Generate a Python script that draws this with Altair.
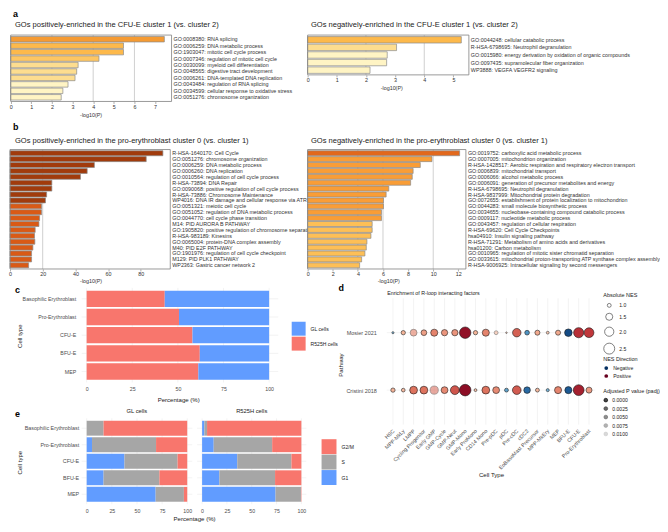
import altair as alt
import pandas as pd

FONT = "Liberation Sans"
W, H = 652, 512

# ---------------- Panel a ----------------
a_left_terms = ["GO:0008380: RNA splicing", "GO:0006259: DNA metabolic process",
                "GO:1903047: mitotic cell cycle process", "GO:0007346: regulation of mitotic cell cycle",
                "GO:0030099: myeloid cell differentiation", "GO:0048565: digestive tract development",
                "GO:0006261: DNA-templated DNA replication", "GO:0043484: regulation of RNA splicing",
                "GO:0034599: cellular response to oxidative stress", "GO:0051276: chromosome organization"]
a_left_vals = [7.45, 5.47, 5.47, 4.28, 3.27, 3.2, 3.12, 2.78, 2.53, 2.45]
a_left_shade = ["s1", "s2", "s2", "s3", "s4", "s4", "s4", "s5", "s5", "s5"]

a_right_terms = ["GO:0044248: cellular catabolic process", "R-HSA-6798695: Neutrophil degranulation",
                 "GO:0015980: energy derivation by oxidation of organic compounds",
                 "GO:0097435: supramolecular fiber organization", "WP3888: VEGFA VEGFR2 signaling"]
a_right_vals = [5.27, 3.05, 2.73, 2.71, 2.14]
a_right_shade = ["s2", "s4", "s5", "s5", "s5"]

# ---------------- Panel b ----------------
b_left_terms = ["R-HSA-1640170: Cell Cycle", "GO:0051276: chromosome organization",
                "GO:0006259: DNA metabolic process", "GO:0006260: DNA replication",
                "GO:0010564: regulation of cell cycle process", "R-HSA-73894: DNA Repair",
                "GO:0090068: positive regulation of cell cycle process", "R-HSA-73886: Chromosome Maintenance",
                "WP4016: DNA IR damage and cellular response via ATR", "GO:0051321: meiotic cell cycle",
                "GO:0051052: regulation of DNA metabolic process", "GO:0044770: cell cycle phase transition",
                "M14: PID AURORA B PATHWAY", "GO:1905820: positive regulation of chromosome separation",
                "R-HSA-983189: Kinesins", "GO:0065004: protein-DNA complex assembly",
                "M40: PID E2F PATHWAY", "GO:1901976: regulation of cell cycle checkpoint",
                "M129: PID PLK1 PATHWAY", "WP2363: Gastric cancer network 2"]
b_left_vals = [93.5, 83.3, 51.6, 47.2, 43.1, 25.6, 25.6, 22.4, 21.7, 19.3,
               19.3, 18.1, 17.7, 15.4, 15.0, 15.2, 14.0, 13.2, 13.2, 11.4]
b_left_shade = ["s6"] * 9 + ["s7"] * 11

b_right_terms = ["GO:0019752: carboxylic acid metabolic process", "GO:0007005: mitochondrion organization",
                 "R-HSA-1428517: Aerobic respiration and respiratory electron transport",
                 "GO:0006839: mitochondrial transport", "GO:0006066: alcohol metabolic process",
                 "GO:0006091: generation of precursor metabolites and energy",
                 "R-HSA-6798695: Neutrophil degranulation", "R-HSA-9837999: Mitochondrial protein degradation",
                 "GO:0072655: establishment of protein localization to mitochondrion",
                 "GO:0044283: small molecule biosynthetic process",
                 "GO:0034655: nucleobase-containing compound catabolic process",
                 "GO:0009117: nucleotide metabolic process", "GO:0043457: regulation of cellular respiration",
                 "R-HSA-69620: Cell Cycle Checkpoints", "hsa04910: Insulin signaling pathway",
                 "R-HSA-71291: Metabolism of amino acids and derivatives", "hsa01200: Carbon metabolism",
                 "GO:0010965: regulation of mitotic sister chromatid separation",
                 "GO:0033615: mitochondrial proton-transporting ATP synthase complex assembly",
                 "R-HSA-9006925: Intracellular signaling by second messengers"]
b_right_vals = [12.1, 9.9, 8.97, 8.4, 8.33, 8.2, 6.46, 6.25, 6.04, 6.04,
                5.88, 5.88, 5.14, 5.14, 5.04, 4.72, 4.67, 4.56, 4.3, 4.14]
b_right_shade = ["s8"] + ["s9"] * 11 + ["s10"] * 8

shade_names = ["s1", "s2", "s3", "s4", "s5", "s6", "s7", "s8", "s9", "s10"]
shade_colors = ["#F59B33", "#FDB94B", "#FDC663", "#FDDD8F", "#FFF4C4",
                "#A13B0C", "#D95A16", "#E2681C", "#F99D36", "#FDBF56"]

# ---------------- Panel c ----------------
cell_types = ["Basophilic Erythroblast", "Pro-Erythroblast", "CFU-E", "BFU-E", "MEP"]
c_r525h = [42.8, 50.6, 58.0, 62.0, 61.2]
c_gl = [57.2, 49.4, 42.0, 38.0, 38.8]

# ---------------- Panel e ----------------
phases = ["G2/M", "S", "G1"]
e_gl_g1 = [0.0, 5.3, 37.6, 16.8, 68.6]
e_gl_s = [16.8, 63.7, 52.8, 55.5, 28.1]
e_gl_g2m = [83.2, 31.0, 9.6, 27.7, 3.3]
e_r_g1 = [2.3, 11.7, 35.4, 17.4, 74.0]
e_r_s = [2.7, 58.9, 54.6, 56.1, 25.6]
e_r_g2m = [95.0, 29.4, 10.0, 26.5, 0.4]

# ---------------- Panel d ----------------
d_cells = ["HSC", "MPP-MkLy", "LMPP", "Cycling Progenitor", "Early GMP", "GMP-Cycle", "GMP-Neut",
           "GMP-Mono", "Early ProMono", "CD14 Mono", "Pre-pDC", "pDC", "Pre-cDC", "cDC2",
           "EoBasoMast Precursor", "MPP-MkEry", "MEP", "BFU-E", "CFU-E", "Pro-Erythroblast"]
d_paths = ["Mosier 2021", "Cristini 2018"]
mosier_nes = [-0.85, 1.05, 1.45, 1.25, 1.5, 1.35, 1.35, 2.65, 1.05, 1.5,
              1.0, 0.82, 1.8, -1.1, 1.15, 0.9, 1.15, -1.6, 2.25, 2.15]
mosier_padj = [0.001, 0.0006, 0.0045, 0.0005, 0.0003, 0.0005, 0.0004, 0.0, 0.0006, 0.0003,
               0.0052, 0.002, 0.0002, 0.0004, 0.0005, 0.002, 0.0005, 0.0, 0.0, 0.0]
cristini_nes = [1.05, 0.98, 1.65, 1.65, 1.75, 1.45, 1.9, 2.7, 0.9, 1.65,
                1.45, -1.0, 1.85, -1.4, 1.0, -0.92, 1.5, -1.5, 2.45, 1.3]
cristini_padj = [0.0006, 0.0008, 0.0002, 0.0002, 0.0056, 0.0004, 0.0001, 0.0, 0.001, 0.0002,
                 0.0005, 0.0008, 0.0001, 0.0003, 0.0008, 0.0015, 0.0004, 0.0, 0.0, 0.0006]
dir_names = ["Negative", "Positive"]

TXT = "#1A1A1A"
GRAY = "#4D4D4D"
GRIDC = "#EBEBEB"


def txt(t, x, y, size, weight="normal", align="left", baseline="middle", color=TXT):
    return alt.Chart(pd.DataFrame({"t": [t]})).mark_text(
        align=align, baseline=baseline, fontSize=size, fontWeight=weight, color=color, font=FONT
    ).encode(text="t:N", x=alt.value(x), y=alt.value(y))


def go_panel(terms, vals, shades, xmax, ticks, grid_vals, x0, x1, y0, y1, po, titleX, titleY):
    df = pd.DataFrame({"term": terms, "val": vals, "shade": shades})
    xscale = alt.Scale(domain=[0, xmax], range=[x0, x1], nice=False, zero=True)
    xaxis = alt.Axis(orient="bottom", offset=y1 - H, values=ticks, grid=False, domain=False,
                     tickSize=2, tickColor="#777777", tickWidth=0.6, labelFontSize=5.4,
                     labelColor="#333333", labelPadding=1, labelFlush=False, labelOverlap=False,
                     title="-log10(P)", titleFontSize=5.4, titleFontWeight="normal",
                     titleColor="#333333", titleX=titleX, titleY=titleY, titleBaseline="middle")
    yscale = alt.Scale(domain=terms, range=[y0, y1], paddingInner=0.15, paddingOuter=po)
    yaxis = alt.Axis(orient="right", offset=x1 - W, title=None, ticks=False, domain=False,
                     labelAlign="left", labelFontSize=5.4, labelColor="#333333",
                     labelPadding=1.5, labelLimit=600)
    grid = alt.Chart(pd.DataFrame({"val": grid_vals})).mark_rule(
        color="#C4C4C4", strokeWidth=0.8
    ).encode(x=alt.X("val:Q", scale=xscale, axis=xaxis), y=alt.value(y0), y2=alt.value(y1))
    bars = alt.Chart(df).mark_bar(stroke="#8A8A8A", strokeWidth=0.7).encode(
        x=alt.X("val:Q", scale=xscale, axis=xaxis),
        y=alt.Y("term:N", sort=terms, scale=yscale, axis=yaxis),
        color=alt.Color("shade:N", scale=alt.Scale(domain=shade_names, range=shade_colors),
                        legend=None),
    )
    box = alt.Chart(pd.DataFrame({"b": [0]})).mark_rect(
        fillOpacity=0, stroke="#7F7F7F", strokeWidth=0.8
    ).encode(x=alt.value(x0), x2=alt.value(x1), y=alt.value(y0), y2=alt.value(y1))
    return alt.layer(grid, bars, box)


aL = go_panel(a_left_terms, a_left_vals, a_left_shade, 7.8, list(range(8)), [2, 4, 6],
              0.7, 162.3, 23, 89.7, 0.22, 81, 13)
aR = go_panel(a_right_terms, a_right_vals, a_right_shade, 5.53, list(range(6)), [2, 4],
              299, 461, 23, 63, 0.2, 383, 12.7)
bL = go_panel(b_left_terms, b_left_vals, b_left_shade, 98, [0, 20, 40, 60, 80], [20],
              0, 161, 138, 258, 0.2, 81, 12)
bR = go_panel(b_right_terms, b_right_vals, b_right_shade, 12.6, [0, 2, 4, 6, 8, 10, 12], [4, 6, 10],
              299, 458, 138, 258, 0.2, 380, 12)


# ---------------- stacked percentage panels (c, e) ----------------
def pct_panel(df, grp_field, cscale, legend, x0, x1, y0, y1, dmin, ylabels, ylab_pad,
              ytitleY, xtitle, xtitleX=None, xtitleY=None, yfs=5.3):
    xscale = alt.Scale(domain=[dmin, 105], range=[x0, x1], nice=False, zero=False)
    xkw = dict(orient="bottom", offset=y1 - H, values=[0, 25, 50, 75, 100], grid=False,
               domain=False, ticks=False, labelFontSize=5.3, labelColor=GRAY, labelPadding=4.3,
               labelFlush=False, labelOverlap=False)
    if xtitle:
        xkw.update(title="Percentage (%)", titleFontSize=6.1, titleFontWeight="normal",
                   titleColor=TXT, titleX=xtitleX, titleY=xtitleY, titleBaseline="middle")
    else:
        xkw["title"] = None
    xaxis = alt.Axis(**xkw)
    yscale = alt.Scale(domain=cell_types, range=[y0, y1], paddingInner=0.1, paddingOuter=0.15)
    if ylabels:
        yaxis = alt.Axis(orient="left", offset=-x0, grid=False, ticks=False, domain=False,
                         labelFontSize=yfs, labelColor=GRAY, labelPadding=ylab_pad,
                         title="Cell type", titleFontSize=6.1, titleFontWeight="normal",
                         titleColor=TXT, titleX=-62, titleY=ytitleY, titleAngle=270,
                         titleBaseline="middle", titleAlign="center")
    else:
        yaxis = alt.Axis(orient="left", offset=-x0, grid=False, ticks=False, domain=False,
                         labels=False, title=None)
    vgrid = alt.Chart(pd.DataFrame({"pct": [0, 25, 50, 75, 100]})).mark_rule(
        color=GRIDC, strokeWidth=0.6
    ).encode(x=alt.X("pct:Q", scale=xscale, axis=xaxis), y=alt.value(y0), y2=alt.value(y1))
    hgrid = alt.Chart(pd.DataFrame({"cell": cell_types})).mark_rule(
        color=GRIDC, strokeWidth=0.6
    ).encode(y=alt.Y("cell:N", sort=cell_types, scale=yscale, axis=yaxis),
             x=alt.value(x0), x2=alt.value(x1))
    bars = alt.Chart(df).mark_bar().encode(
        x=alt.X("pct:Q", stack="zero", scale=xscale, axis=xaxis),
        y=alt.Y("cell:N", sort=cell_types, scale=yscale, axis=yaxis),
        color=alt.Color(grp_field + ":N", scale=cscale, legend=legend),
        order=alt.Order("ord:Q"),
    )
    return alt.layer(vgrid, hgrid, bars)


c_rows = []
for i, ct in enumerate(cell_types):
    c_rows.append({"cell": ct, "group": "R525H cells", "pct": c_r525h[i], "ord": 0})
    c_rows.append({"cell": ct, "group": "GL cells", "pct": c_gl[i], "ord": 1})
c_df = pd.DataFrame(c_rows)

c_panel = pct_panel(
    c_df, "group",
    alt.Scale(domain=["GL cells", "R525H cells"], range=["#619CFF", "#F8766D"]),
    alt.Legend(orient="none", legendX=283, legendY=311, title=None, symbolType="square",
               symbolSize=196, symbolStrokeWidth=0, labelFontSize=5.1, labelColor=TXT,
               rowPadding=1, labelOffset=5),
    72, 269.5, 277, 372, -2.73, True, 6, 325, True, 169, 16.7)


def e_df(g1, s, g2m):
    rows = []
    for i, ct in enumerate(cell_types):
        rows.append({"cell": ct, "phase": "G1", "pct": g1[i], "ord": 0})
        rows.append({"cell": ct, "phase": "S", "pct": s[i], "ord": 1})
        rows.append({"cell": ct, "phase": "G2/M", "pct": g2m[i], "ord": 2})
    return pd.DataFrame(rows)


phase_scale = alt.Scale(domain=phases, range=["#F8766D", "#A6A6A6", "#619CFF"])
eL_panel = pct_panel(e_df(e_gl_g1, e_gl_s, e_gl_g2m), "phase", phase_scale, None,
                     72, 183.1, 408, 494.3, -5, True, 3, 452, True, 184.9, 14.7, yfs=5.4)
eR_panel = pct_panel(e_df(e_r_g1, e_r_s, e_r_g2m), "phase", phase_scale,
                     alt.Legend(orient="none", legendX=313, legendY=429, title=None,
                                symbolType="square", symbolSize=225, symbolStrokeWidth=0,
                                labelFontSize=5.1, labelColor=TXT, rowPadding=0.5, labelOffset=5),
                     188, 297.7, 408, 494.3, -5, False, 3, 452, False)

# ---------------- Panel d ----------------
d_rows = []
for i, ct in enumerate(d_cells):
    d_rows.append({"cell": ct, "pathway": "Mosier 2021", "nes": mosier_nes[i],
                   "absnes": abs(mosier_nes[i]), "padj": mosier_padj[i]})
    d_rows.append({"cell": ct, "pathway": "Cristini 2018", "nes": cristini_nes[i],
                   "absnes": abs(cristini_nes[i]), "padj": cristini_padj[i]})
d_df = pd.DataFrame(d_rows)

DX0, DX1, DY0, DY1 = 378.5, 587.9, 287.4, 414.3
d_xscale = alt.Scale(domain=d_cells, type="point", padding=0.6, range=[DX0, DX1])
d_xaxis = alt.Axis(orient="bottom", offset=DY1 - H, labelAngle=315, labelAlign="right",
                   labelBaseline="middle", labelPadding=5, domain=False, ticks=False, grid=False,
                   labelFontSize=5.3, labelColor=GRAY, title="Cell Type", titleFontSize=6.1,
                   titleFontWeight="normal", titleColor=TXT, titleX=483.2, titleY=50.4,
                   titleBaseline="middle")
d_yscale = alt.Scale(domain=d_paths, type="point", padding=0, range=[322, 379.7])
d_yaxis = alt.Axis(orient="left", offset=-DX0, grid=False, domain=False, ticks=False,
                   labelFontSize=5.5, labelColor=GRAY, labelPadding=10.5, title="Pathway",
                   titleFontSize=6.1, titleFontWeight="normal", titleColor=TXT, titleX=-46.5,
                   titleY=354, titleAngle=270, titleBaseline="middle", titleAlign="center")

d_vgrid = alt.Chart(pd.DataFrame({"cell": d_cells})).mark_rule(color=GRIDC, strokeWidth=0.6).encode(
    x=alt.X("cell:N", sort=d_cells, scale=d_xscale, axis=d_xaxis),
    y=alt.value(DY0), y2=alt.value(DY1))
d_hgrid = alt.Chart(pd.DataFrame({"pathway": d_paths})).mark_rule(color=GRIDC, strokeWidth=0.6).encode(
    y=alt.Y("pathway:N", sort=d_paths, scale=d_yscale, axis=d_yaxis),
    x=alt.value(DX0), x2=alt.value(DX1))

LEG = dict(titleFontSize=5.5, titleFontWeight="normal", titleColor=TXT, labelFontSize=5.1,
           labelColor=TXT, orient="none", legendX=596)

d_pts = alt.Chart(d_df).mark_circle(stroke="#1A1A1A", strokeWidth=0.6).encode(
    x=alt.X("cell:N", sort=d_cells, scale=d_xscale, axis=d_xaxis),
    y=alt.Y("pathway:N", sort=d_paths, scale=d_yscale, axis=d_yaxis),
    fill=alt.Fill("nes:Q", scale=alt.Scale(scheme="redblue", reverse=True, domain=[-1.6, 2.7],
                                           domainMid=0), legend=None),
    size=alt.Size("absnes:Q", scale=alt.Scale(domain=[0.8, 2.7], range=[1, 135], zero=False),
                  legend=alt.Legend(title="Absolute NES", values=[1.0, 1.5, 2.0, 2.5], format=".1f",
                                    legendY=282.5, symbolFillColor="white",
                                    symbolStrokeColor="black", symbolStrokeWidth=0.7,
                                    titlePadding=4, rowPadding=3, **LEG)),
    opacity=alt.Opacity("padj:Q", scale=alt.Scale(domain=[0, 0.01], range=[1, 0.2]),
                        legend=alt.Legend(title="Adjusted P value (padj)",
                                          values=[0, 0.0025, 0.005, 0.0075, 0.01], format=".4f",
                                          legendY=378.7, symbolFillColor="#444444",
                                          symbolStrokeColor="#000000", symbolStrokeWidth=0.6,
                                          symbolSize=14, titlePadding=3, rowPadding=1.5, **LEG)),
)
d_dir = alt.Chart(pd.DataFrame({"dir": dir_names})).mark_circle(opacity=0).encode(
    x=alt.value(DX0), y=alt.value(DY0),
    color=alt.Color("dir:N", scale=alt.Scale(domain=dir_names, range=["#053061", "#67001F"]),
                    legend=alt.Legend(title="NES Direction", legendY=346, symbolOpacity=1,
                                      symbolSize=14, titlePadding=3, rowPadding=1, **LEG)))
d_panel = alt.layer(d_vgrid, d_hgrid, d_pts, d_dir)

# ---------------- texts: panel letters, titles, strips ----------------
texts = [
    txt("a", 3, 4.7, 9, weight="bold", baseline="alphabetic", color="#000000"),
    txt("GOs positively-enriched in the CFU-E cluster 1 (vs. cluster 2)", 5, 13, 7.6, color="#222222"),
    txt("GOs negatively-enriched in the CFU-E cluster 1 (vs. cluster 2)", 302.3, 13, 7.6, color="#222222"),
    txt("b", 3, 118, 9, weight="bold", baseline="alphabetic", color="#000000"),
    txt("GOs positively-enriched in the pro-erythroblast cluster 0 (vs. cluster 1)", 5, 129, 7.6,
        color="#222222"),
    txt("GOs negatively-enriched in the pro-erythroblast cluster 0 (vs. cluster 1)", 302.3, 129, 7.6,
        color="#222222"),
    txt("c", 5, 282, 9, weight="bold", baseline="alphabetic", color="#000000"),
    txt("e", 5, 407, 9, weight="bold", baseline="alphabetic", color="#000000"),
    txt("GL cells", 127.5, 401, 5.8, align="center"),
    txt("R525H cells", 242.85, 401, 5.8, align="center"),
    txt("d", 330, 280, 9, weight="bold", baseline="alphabetic", color="#000000"),
    txt("Enrichment of R-loop interacting factors", 379, 282, 5.3),
]

chart = alt.layer(aL, aR, bL, bR, c_panel, eL_panel, eR_panel, d_panel, *texts).resolve_scale(
    x="independent", y="independent", color="independent", fill="independent",
    size="independent", opacity="independent"
).resolve_axis(x="independent", y="independent").resolve_legend(
    color="independent", fill="independent", size="independent", opacity="independent"
).properties(width=W, height=H, padding=0).configure(font=FONT).configure_view(stroke=None)

chart.save("out.html", embed_options={"renderer": "svg", "actions": False})
